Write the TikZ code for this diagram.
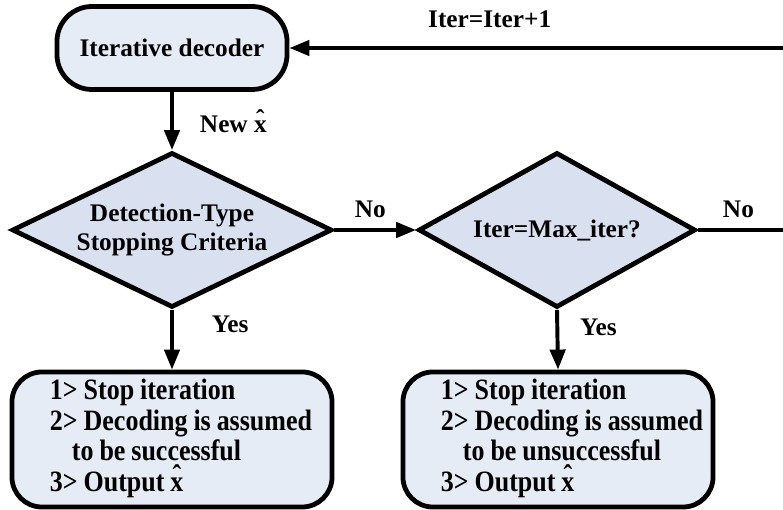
\documentclass[tikz,border=0pt]{standalone}
\usepackage{fontspec}
\setmainfont{Liberation Serif}
\newfontfamily\narrowfont{Liberation Serif}[FakeStretch=0.88]
\usetikzlibrary{shapes.geometric,arrows.meta}
\definecolor{boxfill}{RGB}{230,236,246}
\definecolor{diafill}{RGB}{217,224,240}
% estimate with a raised hat
\newcommand{\xhat}{\ooalign{x\cr\hidewidth\raisebox{0.45ex}{\char"02C6}\hidewidth\cr}}
\begin{document}
\begin{tikzpicture}[x=0.025cm,y=-0.025cm,
  every node/.style={font=\fontsize{18}{21}\selectfont\bfseries},
  roundbox/.style={draw,line width=3.4pt,fill=boxfill},
  decision/.style={diamond,draw,line width=3.4pt,fill=diafill,inner sep=0pt,align=center},
  arr/.style={line width=2.8pt,-{Triangle[length=0.5cm,width=0.38cm]}},
  lbl/.style={inner sep=0pt}]
\useasboundingbox (0,0) rectangle (783,510);

\node[roundbox,rounded corners=0.875cm,minimum width=5.75cm,minimum height=2.075cm] (dec) at (172,48) {Iterative decoder};
\node[decision,minimum width=8cm,minimum height=3.875cm,aspect=2.06] (det) at (172,230) {Detection-Type\\Stopping Criteria};
\node[decision,minimum width=6.925cm,minimum height=3.875cm,aspect=1.79] (mx) at (557,230) {Iter=Max\_iter?};

% outputs of the two tests
\foreach \n/\x/\w/\r in {1/172/8cm/successful,2/558/7.75cm/unsuccessful}{
  \node[roundbox,rounded corners=0.75cm,minimum width=\w,minimum height=3.375cm,text width=\w,inner xsep=0pt,
    font=\narrowfont\fontsize{21}{21.8}\selectfont\bfseries] (out\n) at (\x,439.5)
    {\spaceskip=0.2em\relax\hspace*{0.95cm}\begin{tabular}{@{}l@{}}1> Stop iteration\\2> Decoding is assumed\\\hspace*{0.55cm}to be \r\\3> Output \xhat\end{tabular}};
}

\coordinate (loopB) at (790,230);
\coordinate (loopT) at (790,48);

\draw[arr] (dec.south) -- node[lbl,pos=0.56,right=0.65cm] (newx) {New \xhat} (det.north);
\draw[arr] (det.east) -- node[lbl,pos=0.44,above=0.25cm] (no1) {No} (mx.west);
\draw[arr] (det.south) -- node[lbl,pos=0.25,right=0.95cm] (yes1) {Yes} (out1.north);
\draw[arr] (mx.south) -- node[lbl,pos=0.3,right=0.52cm] (yes2) {Yes} (out2.north);
\draw[arr] (mx.east) -- node[lbl,pos=0.44,above=0.25cm] (no2) {No} (loopB) -- (loopT)
  -- node[lbl,pos=0.6,above=0.45cm] (inc) {Iter=Iter+1} (dec.east);
\end{tikzpicture}
\end{document}
